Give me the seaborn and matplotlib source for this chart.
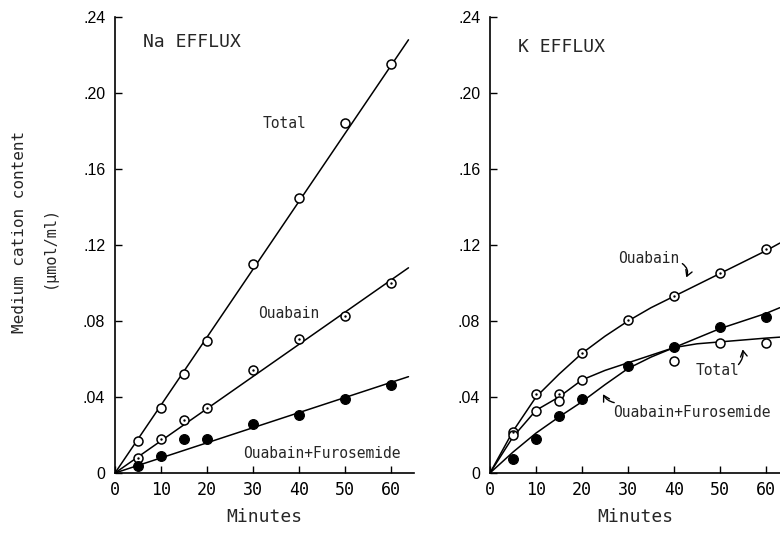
import matplotlib
matplotlib.use("Agg")
import matplotlib.pyplot as plt
import seaborn as sns

# --- data ---
minutes = [5, 10, 15, 20, 30, 40, 50, 60]

# Na efflux (left panel)
na_total = [0.0168, 0.0344, 0.052, 0.0695, 0.110, 0.1447, 0.184, 0.215]
na_ouabain = [0.0079, 0.018, 0.028, 0.0344, 0.054, 0.0705, 0.0828, 0.100]
na_ouab_furo = [0.0037, 0.009, 0.018, 0.0178, 0.0258, 0.0305, 0.039, 0.0463]

# straight fitted lines (end points)
na_line_x = [0, 63.8]
na_total_line = [0, 0.228]
na_ouabain_line = [0, 0.108]
na_ouab_furo_line = [0, 0.0507]

# K efflux (right panel)
k_ouabain = [0.0217, 0.0416, 0.0416, 0.0633, 0.0805, 0.0932, 0.1054, 0.1179]
k_total_min = [5, 10, 15, 20, 40, 50, 60]
k_total = [0.020, 0.0328, 0.0379, 0.049, 0.0591, 0.0683, 0.0686]
k_ouab_furo = [0.0072, 0.0177, 0.030, 0.039, 0.0562, 0.0662, 0.077, 0.082]

# fitted curves
k_curve_x = [0, 5, 10, 15, 20, 25, 30, 35, 40, 45, 50, 55, 60, 63]
k_ouabain_curve = [0, 0.022, 0.040, 0.052, 0.063, 0.072, 0.080, 0.087, 0.093, 0.099, 0.105, 0.111, 0.117, 0.121]
k_total_curve = [0, 0.019, 0.033, 0.040, 0.049, 0.054, 0.058, 0.062, 0.066, 0.068, 0.069, 0.070, 0.071, 0.0715]
k_ouab_furo_curve = [0, 0.011, 0.021, 0.0295, 0.0375, 0.0465, 0.055, 0.061, 0.066, 0.071, 0.076, 0.080, 0.084, 0.087]

y_ticks = [0, 0.04, 0.08, 0.12, 0.16, 0.20, 0.24]
y_tick_labels = ["0", ".04", ".08", ".12", ".16", ".20", ".24"]
x_ticks = [0, 10, 20, 30, 40, 50, 60]

sns.set_theme(style="ticks")
plt.rcParams["font.family"] = ["DejaVu Sans Mono"]
MONO = "DejaVu Sans Mono"

fig = plt.figure(figsize=(7.8, 5.37), dpi=100)
ax1 = fig.add_axes([115 / 780, 64 / 537, 299 / 780, 456 / 537])
ax2 = fig.add_axes([490 / 780, 64 / 537, 290 / 780, 456 / 537])


def open_pts(ax, x, y, dot=False):
    sns.scatterplot(x=x, y=y, ax=ax, marker="o", s=42, color="white",
                    edgecolor="black", linewidth=1.1, zorder=3)
    if dot:
        sns.scatterplot(x=x, y=y, ax=ax, marker="o", s=3, color="black",
                        edgecolor="black", linewidth=0, zorder=4)


def filled_pts(ax, x, y):
    sns.scatterplot(x=x, y=y, ax=ax, marker="o", s=50, color="black",
                    edgecolor="black", linewidth=0.8, zorder=3)


def style_axis(ax, xmax):
    ax.set_xlim(0, xmax)
    ax.set_ylim(0, 0.24)
    ax.set_xticks(x_ticks)
    ax.set_yticks(y_ticks)
    ax.set_yticklabels(y_tick_labels, family="Liberation Sans", fontsize=11.5)
    ax.set_xticklabels([str(t) for t in x_ticks], family=MONO, fontsize=12)
    ax.tick_params(direction="in", length=5, width=1, colors="black", pad=7)
    ax.tick_params(axis="x", pad=6)
    for s in ["top", "right"]:
        ax.spines[s].set_visible(False)
    for s in ["left", "bottom"]:
        ax.spines[s].set_linewidth(1.2)
        ax.spines[s].set_color("black")
    ax.set_xlabel("Minutes", fontsize=13, family=MONO, labelpad=6)
    ax.set_ylabel("")


# --- left panel: Na efflux ---
for line in [na_total_line, na_ouabain_line, na_ouab_furo_line]:
    sns.lineplot(x=na_line_x, y=line, ax=ax1, color="black", lw=1.1)
open_pts(ax1, minutes, na_total)
open_pts(ax1, minutes, na_ouabain, dot=True)
filled_pts(ax1, minutes, na_ouab_furo)
style_axis(ax1, 65)

ax1.text(6.1, 0.2266, "Na EFFLUX", fontsize=13, va="center", ha="left")
ax1.text(32.0, 0.1837, "Total", fontsize=10.5, va="center", ha="left")
ax1.text(31.1, 0.0837, "Ouabain", fontsize=10.5, va="center", ha="left")
ax1.text(27.8, 0.0105, "Ouabain+Furosemide", fontsize=10.5, va="center", ha="left")

# --- right panel: K efflux ---
for curve in [k_ouabain_curve, k_total_curve, k_ouab_furo_curve]:
    sns.lineplot(x=k_curve_x, y=curve, ax=ax2, color="black", lw=1.1)
open_pts(ax2, minutes, k_ouabain, dot=True)
open_pts(ax2, k_total_min, k_total)
filled_pts(ax2, minutes, k_ouab_furo)
style_axis(ax2, 63.04)

ax2.text(6.1, 0.224, "K EFFLUX", fontsize=13, va="center", ha="left")
ax2.text(27.8, 0.113, "Ouabain", fontsize=10.5, va="center", ha="left")
ax2.text(44.6, 0.054, "Total", fontsize=10.5, va="center", ha="left")
ax2.text(26.7, 0.032, "Ouabain+Furosemide", fontsize=10.5, va="center", ha="left")

arrow = dict(arrowstyle="->,head_length=0.35,head_width=0.2", color="black", lw=1.0)
ax2.annotate("", xy=(42.4, 0.1016), xytext=(41.3, 0.111),
             arrowprops=dict(arrow, connectionstyle="arc3,rad=-0.5"))
ax2.annotate("", xy=(54.8, 0.0665), xytext=(53.6, 0.056),
             arrowprops=dict(arrow, connectionstyle="arc3,rad=0.3"))
ax2.annotate("", xy=(24.3, 0.0428), xytext=(27.6, 0.0368),
             arrowprops=dict(arrow, connectionstyle="arc3,rad=-0.3"))

# two-line y label
fig.text(20 / 780, 1 - 232 / 537, "Medium cation content", rotation=90,
         ha="center", va="center", fontsize=11.5, family=MONO)
fig.text(49 / 780, 1 - 247 / 537, "(\u03bcmol/ml)", rotation=90,
         ha="center", va="center", fontsize=11, family=MONO)

fig.savefig("out.png", dpi=100, facecolor="white")
